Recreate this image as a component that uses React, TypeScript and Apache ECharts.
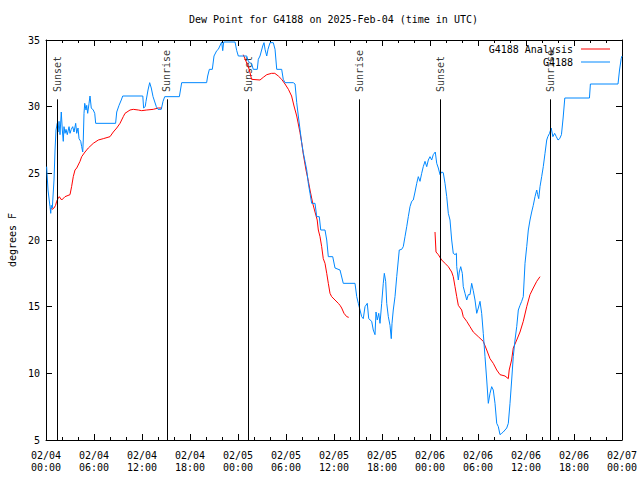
import React, { useEffect, useRef } from "react";
import * as echarts from "echarts";

const MONO = "'DejaVu Sans Mono', 'Liberation Mono', monospace";

const chartTitle = "Dew Point for G4188 on 2025-Feb-04 (time in UTC)";
const yAxisName = "degrees F";
const seriesNames = ["G4188 Analysis", "G4188"];

// x tick labels every 6 hours from 02/04 00:00 (hours since start)
const tickLabels = [
  "02/04\n00:00", "02/04\n06:00", "02/04\n12:00", "02/04\n18:00",
  "02/05\n00:00", "02/05\n06:00", "02/05\n12:00", "02/05\n18:00",
  "02/06\n00:00", "02/06\n06:00", "02/06\n12:00", "02/06\n18:00",
  "02/07\n00:00",
];

// sunrise / sunset events (hours since 02/04 00:00 UTC)
const eventNames = ["Sunset", "Sunrise", "Sunset", "Sunrise", "Sunset", "Sunrise"];
const eventHours = [1.45, 15.1, 25.3, 39.15, 49.3, 63.05];
const eventLineTop = 30.55;
const eventLabelBase = 31.1;

// G4188 Analysis (red) [hour, degF]; '-' breaks the line
const analysis: (number | string)[][] = [
  [0.59, 22.4], [0.75, 22.3], [1.0, 22.4], [1.2, 22.6], [1.33, 22.9], [1.5, 23.1],
  [1.66, 23.25], [1.96, 23.0], [2.375, 23.25], [3.0, 23.4], [3.2, 24.0], [3.41, 24.75],
  [3.625, 25.25], [3.84, 25.4], [4.25, 25.9], [4.46, 26.25], [4.875, 26.6], [5.29, 26.9],
  [5.91, 27.25], [6.54, 27.5], [7.16, 27.6], [8.0, 27.75], [8.41, 28.1], [8.84, 28.4],
  [9.25, 28.75], [9.66, 29.25], [9.875, 29.5], [10.5, 29.75], [10.91, 29.8], [11.54, 29.75],
  [11.96, 29.7], [12.59, 29.75], [13.41, 29.8], [14.04, 29.9], [14.5, 29.9],
  [20, "-"],
  [24.66, 33.9], [25.0, 33.4], [25.4, 32.8], [25.6, 32.3], [25.7, 32.05], [26.75, 32.0],
  [27.16, 32.2], [27.6, 32.4], [28.2, 32.5], [28.6, 32.5], [29.04, 32.3], [29.46, 32.05],
  [29.875, 31.7], [30.3, 31.3], [30.7, 30.8], [31.0, 30.05], [31.34, 29.3], [31.54, 28.7],
  [31.75, 28.05], [31.96, 27.3], [32.16, 26.45], [32.5, 25.25], [32.8, 24.4], [33.0, 23.75],
  [33.34, 22.75], [33.625, 22.1], [33.9, 21.5], [34.04, 20.75], [34.25, 20.25], [34.46, 19.5],
  [34.66, 18.6], [34.875, 18.25], [35.09, 17.5], [35.29, 16.75], [35.5, 16.0], [35.71, 15.75],
  [36.125, 15.5], [36.54, 15.25], [36.75, 15.1], [36.96, 14.9], [37.25, 14.5], [37.59, 14.25],
  [37.84, 14.2],
  [45, "-"],
  [48.625, 20.6], [48.75, 19.1], [49.04, 18.9], [49.46, 18.5], [49.875, 18.25], [50.29, 18.0],
  [50.71, 17.6], [50.91, 17.25], [51.125, 16.5], [51.34, 15.75], [51.54, 15.1], [51.96, 14.75],
  [52.16, 14.25], [52.59, 13.9], [53.0, 13.5], [53.41, 13.1], [54.04, 12.75], [54.66, 12.4],
  [55.09, 11.75], [55.5, 11.1], [55.91, 10.75], [56.34, 10.25], [56.75, 9.9], [57.375, 9.8],
  [57.79, 9.6], [57.9, 10.25], [58.2, 11.0], [58.41, 11.9], [58.84, 12.5], [59.25, 13.1],
  [59.66, 13.9], [60.09, 15.0], [60.5, 15.9], [60.91, 16.4], [61.34, 16.9], [61.75, 17.25],
];

// G4188 observations (blue) [hour, degF]
const observed: number[][] = [
  [0.08, 25.5], [0.25, 23.75], [0.5, 22.5], [0.59, 22.0], [0.66, 22.6], [0.79, 22.4], [1.0, 24.5],
  [1.13, 26.75], [1.25, 28.25], [1.41, 28.75], [1.5, 28.1], [1.63, 28.9], [1.75, 27.9], [1.91, 29.6],
  [2.04, 28.25], [2.16, 27.4], [2.25, 28.5], [2.38, 28.0], [2.5, 28.3], [2.66, 27.9], [2.88, 28.5],
  [3.0, 28.0], [3.16, 28.3], [3.34, 28.5], [3.5, 28.1], [3.71, 28.75], [3.84, 28.0], [4.0, 28.4],
  [4.13, 27.6], [4.34, 27.4], [4.46, 27.0], [4.59, 26.6], [4.66, 27.5], [4.75, 29.5], [4.84, 30.25],
  [5.0, 29.75], [5.09, 30.1], [5.21, 29.5], [5.38, 30.25], [5.5, 30.8], [5.66, 29.9], [5.91, 29.75],
  [6.09, 29.5], [6.21, 28.75], [8.7, 28.75], [8.84, 29.6], [9.13, 30.1], [9.41, 30.5], [9.59, 30.8],
  [12.1, 30.8], [12.2, 29.9], [12.4, 30.0], [12.5, 30.4], [12.75, 31.25], [12.96, 31.8], [13.16, 31.4],
  [13.38, 30.75], [13.79, 30.0], [14.0, 29.8], [14.41, 29.8], [14.63, 30.4], [14.84, 30.75],
  [16.67, 30.75], [16.96, 31.8], [20.08, 31.8], [20.21, 32.3], [20.42, 32.8], [20.79, 32.8],
  [21.0, 33.8], [21.34, 34.2], [21.54, 34.3], [21.96, 34.85], [22.09, 34.2], [22.21, 34.85],
  [23.63, 34.85], [23.84, 34.2], [24.04, 33.8], [25.09, 33.8], [25.29, 33.4], [25.71, 33.2],
  [25.91, 32.8], [26.41, 32.8], [26.54, 33.55], [26.75, 33.8], [27.09, 34.55], [27.25, 34.8],
  [27.38, 34.3], [27.59, 33.8], [27.75, 34.3], [28.0, 34.8], [28.41, 34.8], [28.63, 34.3],
  [28.84, 32.8], [29.46, 32.8], [29.66, 32.05], [29.88, 31.8], [30.91, 31.8], [31.13, 31.7],
  [31.34, 30.3], [31.54, 29.3], [31.75, 28.3], [31.96, 27.3], [32.16, 26.55], [32.375, 25.9],
  [32.59, 25.25], [32.79, 24.25], [33.0, 23.5], [33.21, 22.75], [33.625, 22.75], [33.84, 21.75],
  [34.16, 21.75], [34.34, 20.75], [34.875, 20.75], [35.09, 20.0], [35.29, 18.75], [35.84, 18.75],
  [36.125, 17.9], [36.75, 17.75], [37.16, 16.75], [38.625, 16.75], [38.84, 15.75], [39.04, 15.25],
  [39.25, 14.75], [39.46, 14.25], [39.66, 14.1], [39.875, 15.0], [40.16, 15.25], [40.34, 14.1],
  [40.71, 13.9], [40.91, 13.25], [41.125, 12.9], [41.25, 14.6], [41.41, 14.0], [41.59, 14.5],
  [41.75, 13.75], [41.96, 15.25], [42.16, 16.75], [42.29, 17.5], [42.46, 16.9], [42.59, 15.25],
  [42.79, 14.25], [43.0, 13.6], [43.16, 12.6], [43.25, 13.75], [43.41, 14.75], [43.625, 15.75],
  [43.84, 17.25], [44.04, 18.5], [44.16, 19.25], [44.46, 19.3], [44.66, 19.5], [44.875, 20.25],
  [45.09, 21.0], [45.29, 21.75], [45.5, 22.5], [45.71, 22.9], [45.91, 23.0], [46.125, 23.6],
  [46.34, 24.25], [46.54, 24.75], [46.75, 24.4], [46.96, 25.0], [47.16, 25.5], [47.375, 25.9],
  [47.59, 25.5], [47.79, 26.0], [48.0, 26.25], [48.21, 26.0], [48.41, 26.4], [48.66, 26.6],
  [48.84, 25.75], [49.04, 25.4], [49.25, 24.9], [49.46, 25.1], [49.66, 25.05], [49.875, 24.25],
  [50.09, 23.25], [50.29, 22.0], [50.5, 21.5], [50.71, 20.0], [50.91, 19.0], [51.125, 18.9],
  [51.3, 19.0], [51.34, 18.0], [51.54, 17.0], [51.66, 17.6], [51.84, 18.0], [52.04, 17.5],
  [52.16, 16.5], [52.375, 16.0], [52.59, 15.5], [52.79, 15.9], [53.0, 15.9], [53.21, 16.75],
  [53.41, 16.2], [53.625, 15.5], [53.84, 14.5], [54.04, 14.9], [54.25, 15.4], [54.46, 14.5],
  [54.66, 13.0], [54.875, 11.25], [55.09, 9.5], [55.29, 7.75], [55.5, 8.5], [55.71, 9.0],
  [55.91, 8.75], [56.125, 7.75], [56.34, 6.25], [56.54, 6.0], [56.75, 5.4], [56.96, 5.5],
  [57.16, 5.6], [57.375, 5.75], [57.59, 5.9], [57.79, 6.25], [58.0, 7.75], [58.21, 9.5],
  [58.41, 11.25], [58.625, 12.5], [58.84, 13.5], [59.04, 14.75], [59.25, 15.1], [59.46, 15.4],
  [59.66, 15.75], [59.875, 18.25], [60.09, 19.5], [60.29, 20.75], [60.5, 21.5], [60.71, 22.1],
  [60.91, 22.6], [61.125, 23.25], [61.34, 23.75], [61.46, 23.4], [61.59, 23.1], [61.75, 24.0],
  [61.96, 24.75], [62.16, 25.5], [62.375, 26.5], [62.59, 27.5], [62.73, 27.75], [62.94, 28.0],
  [63.15, 28.4], [63.36, 27.75], [63.58, 28.0], [63.79, 27.75], [64.0, 27.5], [64.21, 27.6],
  [64.43, 27.9], [64.64, 29.15], [64.85, 30.65], [67.93, 30.65], [68.05, 31.7], [71.5, 31.7],
  [71.69, 32.75], [71.9, 33.6], [72.0, 33.8],
];

const RED = "#ff0000";
const BLUE = "#0088ff";

function makeXAxis(position: "bottom" | "top", showLabels: boolean) {
  return {
    type: "value",
    position,
    min: 0,
    max: 72,
    interval: 6,
    axisLine: { show: true, onZero: false, lineStyle: { color: "#000", width: 1 } },
    axisTick: { show: true, inside: true, length: 6, lineStyle: { color: "#000" } },
    minorTick: { show: true, splitNumber: 3, length: 3, lineStyle: { color: "#000" } },
    splitLine: { show: false },
    minorSplitLine: { show: false },
    axisLabel: {
      show: showLabels,
      formatter: (v: number) => tickLabels[Math.round(v / 6)] ?? "",
      fontFamily: MONO,
      fontSize: 10,
      color: "#000",
      margin: 9,
      lineHeight: 12,
      showMinLabel: true,
      showMaxLabel: true,
    },
  };
}

function makeYAxis(position: "left" | "right", showLabels: boolean) {
  return {
    type: "value",
    position,
    min: 5,
    max: 35,
    interval: 5,
    name: showLabels ? yAxisName : "",
    nameLocation: "middle",
    nameRotate: 90,
    nameGap: 29,
    nameTextStyle: { fontFamily: MONO, fontSize: 10, color: "#000" },
    axisLine: { show: true, onZero: false, lineStyle: { color: "#000", width: 1 } },
    axisTick: { show: true, inside: true, length: 6, lineStyle: { color: "#000" } },
    splitLine: { show: false },
    axisLabel: {
      show: showLabels,
      fontFamily: MONO,
      fontSize: 10,
      color: "#000",
      margin: 6,
    },
  };
}

export default function App() {
  const ref = useRef<HTMLDivElement>(null);

  useEffect(() => {
    if (!ref.current) return;
    const chart = echarts.init(ref.current, undefined, { renderer: "svg" });
    const legendCommon = {
      orient: "horizontal",
      align: "right",
      right: 30,
      icon: "rect",
      itemWidth: 29,
      itemHeight: 1,
      padding: 0,
      textStyle: { fontFamily: MONO, fontSize: 10, color: "#000", padding: [0, 3, 0, 0] },
      selectedMode: false,
    };
    chart.setOption({
      animation: false,
      backgroundColor: "#fff",
      textStyle: { fontFamily: MONO },
      title: {
        text: chartTitle,
        left: 189,
        top: 14,
        padding: 0,
        textStyle: { fontFamily: MONO, fontSize: 10, fontWeight: "normal", color: "#000" },
      },
      legend: [
        { ...legendCommon, top: 44, data: [seriesNames[0]] },
        { ...legendCommon, top: 57, data: [seriesNames[1]] },
      ],
      grid: {
        left: 46,
        right: 18,
        top: 40,
        bottom: 40,
        show: false,
        containLabel: false,
        outerBoundsMode: "none",
      },
      xAxis: [makeXAxis("bottom", true), makeXAxis("top", false)],
      yAxis: [makeYAxis("left", true), makeYAxis("right", false)],
      series: [
        {
          name: "events",
          type: "scatter",
          xAxisIndex: 0,
          yAxisIndex: 0,
          symbolSize: 0,
          silent: true,
          data: eventHours.map((h, i) => ({ value: [h, eventLabelBase], name: eventNames[i] })),
          label: {
            show: true,
            formatter: "{b}",
            position: "inside",
            rotate: 90,
            align: "left",
            verticalAlign: "middle",
            fontFamily: MONO,
            fontSize: 10,
            color: "#000",
          },
          markLine: {
            silent: true,
            symbol: ["none", "none"],
            label: { show: false },
            lineStyle: { color: "#000", width: 1, type: "solid" },
            data: eventHours.map((h) => [{ coord: [h, 5] }, { coord: [h, eventLineTop] }]),
          },
          z: 1,
        },
        {
          name: seriesNames[0],
          type: "line",
          xAxisIndex: 0,
          yAxisIndex: 0,
          data: analysis,
          symbol: "none",
          connectNulls: false,
          lineStyle: { color: RED, width: 1 },
          itemStyle: { color: RED },
          z: 2,
        },
        {
          name: seriesNames[1],
          type: "line",
          xAxisIndex: 0,
          yAxisIndex: 0,
          data: observed,
          symbol: "none",
          lineStyle: { color: BLUE, width: 1 },
          itemStyle: { color: BLUE },
          z: 3,
        },
      ],
    });
    return () => chart.dispose();
  }, []);

  return <div ref={ref} style={{ width: 640, height: 480, position: "absolute", left: 0, top: 0 }} />;
}
